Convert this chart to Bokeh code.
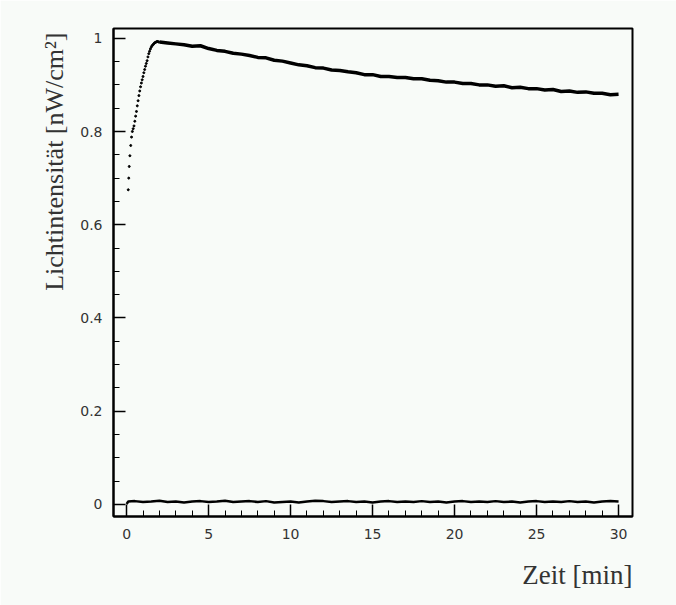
from bokeh.plotting import figure
from bokeh.models import Range1d, Title, SingleIntervalTicker, CustomJSTickFormatter
from bokeh.embed import file_html
from bokeh.resources import INLINE

# --- data ---
rise_t = [0.10, 0.13, 0.16, 0.20, 0.25, 0.30, 0.35, 0.40, 0.45, 0.50, 0.55, 0.60,
          0.65, 0.70, 0.75, 0.80, 0.85, 0.90, 0.95, 1.00, 1.05, 1.10, 1.15, 1.20,
          1.25, 1.30, 1.35, 1.40, 1.45, 1.50, 1.55, 1.60, 1.65, 1.70, 1.75, 1.80,
          1.85, 1.90, 1.95]
rise_y = [0.675, 0.700, 0.725, 0.748, 0.770, 0.788, 0.800, 0.806, 0.812, 0.822, 0.833, 0.843,
          0.855, 0.866, 0.877, 0.887, 0.896, 0.904, 0.911, 0.918, 0.926, 0.933, 0.940, 0.946,
          0.952, 0.960, 0.967, 0.972, 0.977, 0.981, 0.984, 0.986, 0.988, 0.990, 0.991, 0.992,
          0.993, 0.993, 0.992]

main_t = [2.0, 2.5, 3.0, 3.5, 4.0, 4.5, 5.0, 5.5, 6.0, 6.5, 7.0, 7.5, 8.0, 8.5, 9.0, 9.5,
          10.0, 10.5, 11.0, 11.5, 12.0, 12.5, 13.0, 13.5, 14.0, 14.5, 15.0, 15.5, 16.0, 16.5,
          17.0, 17.5, 18.0, 18.5, 19.0, 19.5, 20.0, 20.5, 21.0, 21.5, 22.0, 22.5, 23.0, 23.5,
          24.0, 24.5, 25.0, 25.5, 26.0, 26.5, 27.0, 27.5, 28.0, 28.5, 29.0, 29.5, 30.0]
main_y = [0.992, 0.990, 0.988, 0.986, 0.983, 0.984, 0.978, 0.974, 0.972, 0.968, 0.966, 0.963,
          0.959, 0.958, 0.953, 0.951, 0.947, 0.943, 0.941, 0.937, 0.936, 0.932, 0.931, 0.928,
          0.926, 0.922, 0.922, 0.918, 0.918, 0.916, 0.916, 0.913, 0.913, 0.910, 0.909, 0.906,
          0.906, 0.903, 0.903, 0.900, 0.900, 0.897, 0.898, 0.894, 0.895, 0.892, 0.892, 0.889,
          0.890, 0.886, 0.887, 0.884, 0.885, 0.882, 0.882, 0.879, 0.880]

bot_t = [0.0, 0.1, 0.5, 1.0, 1.5, 2.0, 2.5, 3.0, 3.5, 4.0, 4.5, 5.0, 5.5, 6.0, 6.5, 7.0,
         7.5, 8.0, 8.5, 9.0, 9.5, 10.0, 10.5, 11.0, 11.5, 12.0, 12.5, 13.0, 13.5, 14.0, 14.5,
         15.0, 15.5, 16.0, 16.5, 17.0, 17.5, 18.0, 18.5, 19.0, 19.5, 20.0, 20.5, 21.0, 21.5,
         22.0, 22.5, 23.0, 23.5, 24.0, 24.5, 25.0, 25.5, 26.0, 26.5, 27.0, 27.5, 28.0, 28.5,
         29.0, 29.5, 30.0]
bot_y = [0.001, 0.006, 0.007, 0.005, 0.006, 0.008, 0.005, 0.006, 0.004, 0.006, 0.007, 0.005,
         0.006, 0.008, 0.005, 0.006, 0.007, 0.005, 0.007, 0.004, 0.005, 0.006, 0.004, 0.006,
         0.008, 0.007, 0.005, 0.006, 0.007, 0.005, 0.006, 0.004, 0.006, 0.007, 0.005, 0.006,
         0.005, 0.007, 0.005, 0.006, 0.004, 0.006, 0.007, 0.005, 0.006, 0.005, 0.007, 0.005,
         0.006, 0.004, 0.006, 0.007, 0.005, 0.006, 0.005, 0.007, 0.005, 0.006, 0.004, 0.006,
         0.007, 0.006]

y_label = "Lichtintensität [nW/cm²]"
x_label = "Zeit [min]"

BG = "#f8fbf8"

p = figure(width=676, height=605, output_backend="svg", toolbar_location=None,
           x_range=Range1d(-0.8, 30.85), y_range=Range1d(-0.026, 1.021),
           min_border_left=113, min_border_right=44, min_border_top=28,
           min_border_bottom=87)
p.background_fill_color = BG
p.border_fill_color = BG
p.outline_line_color = "black"
p.outline_line_width = 2
p.grid.visible = False

p.xaxis.ticker = SingleIntervalTicker(interval=5, num_minor_ticks=5)
p.yaxis.ticker = SingleIntervalTicker(interval=0.2, num_minor_ticks=4)
p.yaxis.formatter = CustomJSTickFormatter(code="return String(Math.round(tick*10)/10)")

for ax in (p.xaxis, p.yaxis):
    ax.major_tick_in = 12
    ax.major_tick_out = 0
    ax.minor_tick_in = 6
    ax.minor_tick_out = 0
    ax.axis_line_width = 2
    ax.major_tick_line_width = 1.5
    ax.minor_tick_line_width = 1
    ax.major_label_text_font = "DejaVu Sans"
    ax.major_label_text_font_size = "14px"
    ax.major_label_text_color = "#333333"
p.xaxis.major_label_standoff = 12
p.yaxis.major_label_standoff = 11

p.line(main_t, main_y, line_width=3.5, color="black")
p.scatter(rise_t, rise_y, size=2, color="black")
p.line(bot_t, bot_y, line_width=2.5, color="black")

yt = Title(text=y_label, align="right", text_font="Liberation Serif",
           text_font_size="26px", text_font_style="normal", text_color="#333333",
           standoff=18, offset=4)
p.add_layout(yt, "left")
xt = Title(text=x_label, align="right", text_font="Liberation Serif",
           text_font_size="27px", text_font_style="normal", text_color="#333333",
           standoff=32)
p.add_layout(xt, "below")

open("out.html", "w").write(file_html(p, INLINE))
